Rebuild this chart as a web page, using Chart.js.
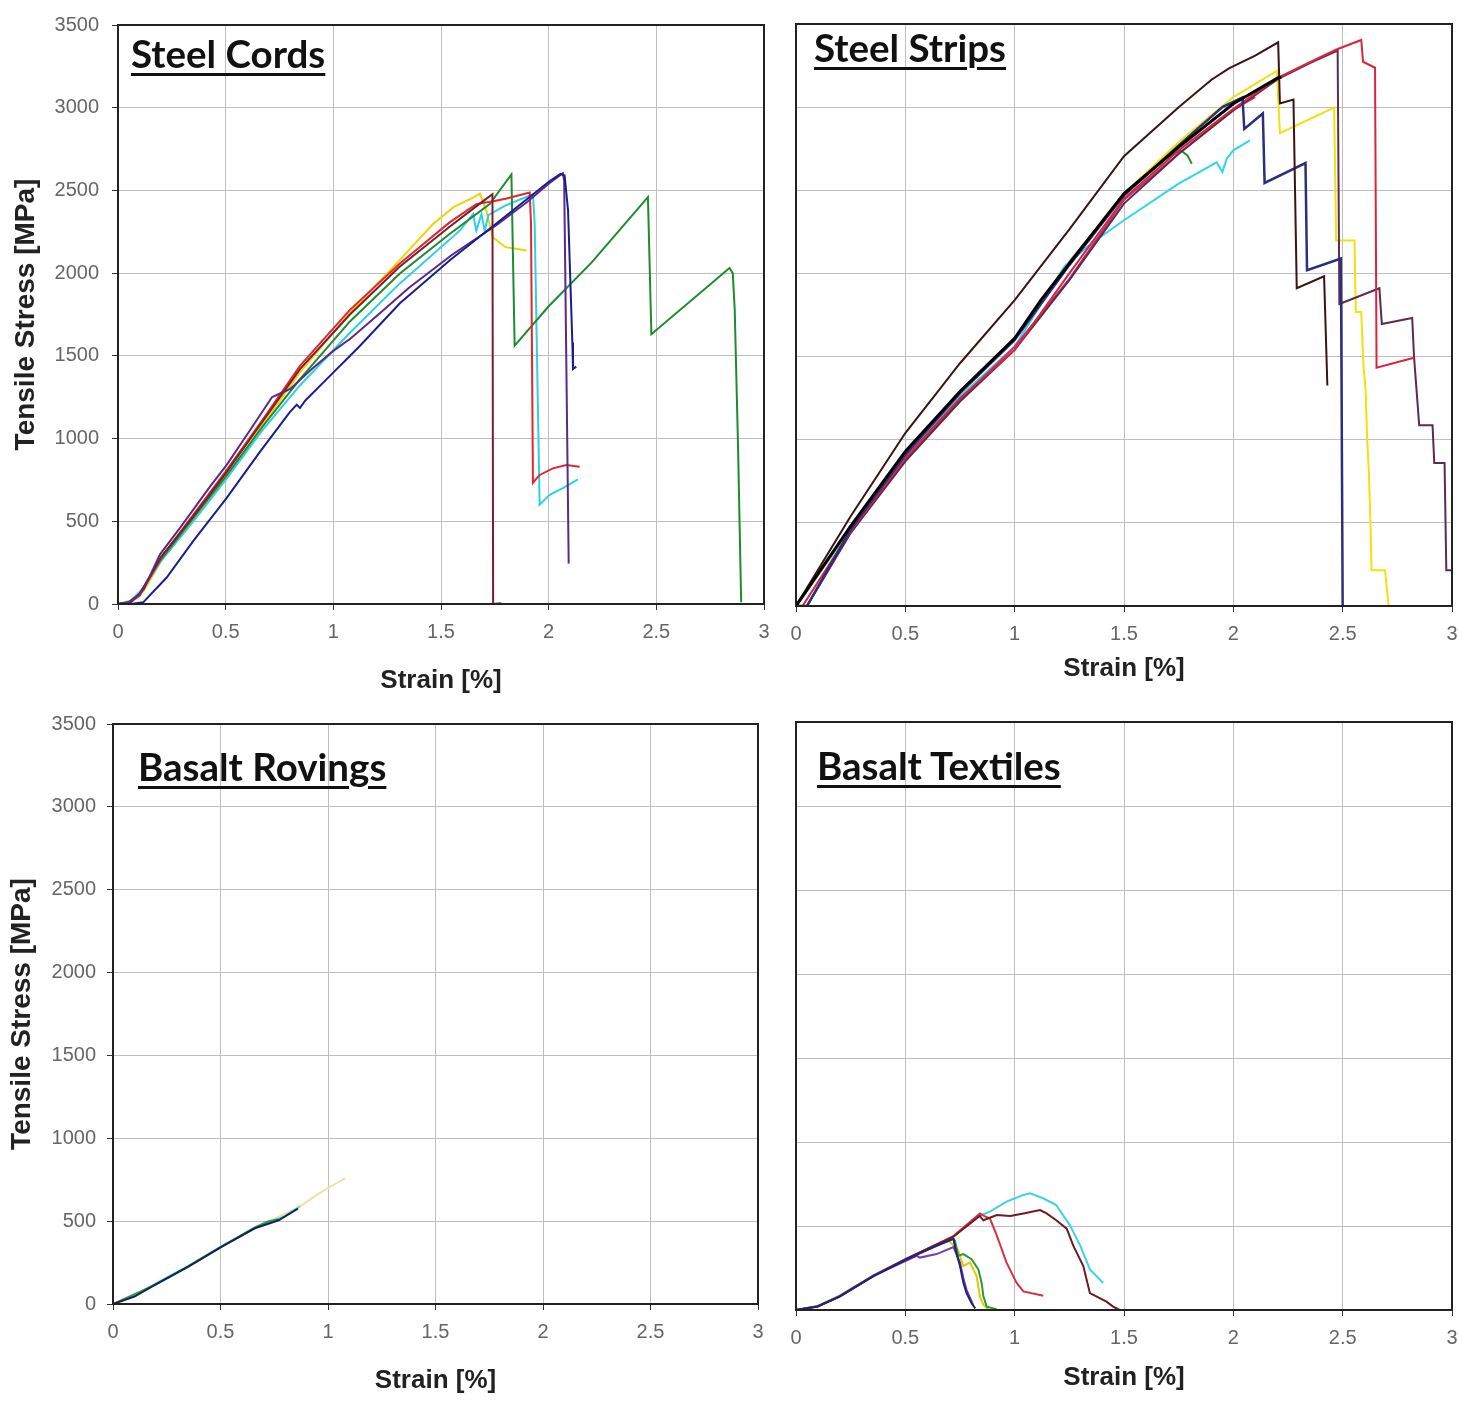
<!DOCTYPE html>
<html>
<head>
<meta charset="utf-8">
<script src="https://cdn.jsdelivr.net/npm/chart.js@4.4.1/dist/chart.umd.min.js"></script>
<style>
  body { margin: 0; background: #fff; }
  #wrap { position: relative; width: 1458px; height: 1405px; overflow: hidden; }
  canvas { position: absolute; }
  .tag {
    position: absolute; font: bold 38.5px Lato, sans-serif; color: #111; line-height: 1;
    text-decoration: underline; text-decoration-thickness: 3px; text-underline-offset: 5px; white-space: nowrap;
  }
</style>
</head>
<body>
<div id="wrap">
  <canvas id="cords" width="780" height="700" style="left:0;top:0"></canvas>
  <canvas id="strips" width="700" height="700" style="left:780px;top:0"></canvas>
  <canvas id="rovings" width="780" height="705" style="left:0;top:700px"></canvas>
  <canvas id="textiles" width="700" height="705" style="left:780px;top:700px"></canvas>
  <div class="tag" style="left:131px;top:34px">Steel Cords</div>
  <div class="tag" style="left:814px;top:28px">Steel Strips</div>
  <div class="tag" style="left:138px;top:747px">Basalt Rovings</div>
  <div class="tag" style="left:817px;top:746px">Basalt Textiles</div>
</div>
<script>
// tick labels
const strainTicks = ['0', '0.5', '1', '1.5', '2', '2.5', '3'];
const stressTicks = ['0', '500', '1000', '1500', '2000', '2500', '3000', '3500'];

// [strain %, stress MPa] — Steel Cords
const cordsNavy = [[0,0],[0.06,0],[0.117,10],[0.226,160],[0.349,380],[0.504,640],[0.659,920],[0.798,1160],[0.83,1205],[0.845,1185],[0.87,1230],[0.968,1358],[1.123,1560],[1.309,1818],[1.541,2078],[1.773,2317],[2.005,2557],[2.055,2600],[2.074,2590],[2.09,2380],[2.1,1980],[2.11,1580],[2.113,1420],[2.128,1435]];
const cordsPurple = [[0,0],[0.06,10],[0.12,90],[0.195,300],[0.288,460],[0.427,710],[0.504,840],[0.613,1050],[0.715,1250],[0.74,1265],[0.8,1300],[0.9,1420],[1.0,1530],[1.08,1605],[1.2,1740],[1.35,1910],[1.55,2110],[1.757,2290],[1.9,2430],[2.0,2540],[2.066,2604],[2.072,2560],[2.093,244]];
const cordsMaroon = [[0,0],[0.05,10],[0.1,60],[0.2,285],[0.35,530],[0.5,790],[0.67,1100],[0.845,1420],[1.077,1750],[1.309,2040],[1.54,2280],[1.7,2440],[1.739,2477],[1.742,0],[1.78,4]];
const cordsRed = [[0,0],[0.05,5],[0.1,50],[0.2,280],[0.35,540],[0.5,800],[0.67,1110],[0.845,1439],[1.077,1778],[1.309,2058],[1.54,2307],[1.664,2417],[1.703,2427],[1.726,2430],[1.8,2450],[1.912,2487],[1.918,2300],[1.927,733],[1.958,780],[2.02,820],[2.082,840],[2.144,830]];
const cordsGreen = [[0,0],[0.05,10],[0.1,60],[0.2,270],[0.35,520],[0.5,770],[0.67,1070],[0.845,1359],[1.077,1708],[1.309,1998],[1.54,2237],[1.726,2417],[1.827,2597],[1.842,1562],[2.0,1800],[2.2,2065],[2.461,2460],[2.477,1631],[2.84,2031],[2.855,2000],[2.864,1778],[2.879,980],[2.894,10]];
const cordsCyan = [[0,0],[0.06,20],[0.12,100],[0.2,260],[0.35,500],[0.5,750],[0.67,1050],[0.845,1321],[1.077,1640],[1.309,1938],[1.587,2257],[1.649,2357],[1.664,2257],[1.688,2357],[1.703,2257],[1.72,2350],[1.8,2410],[1.927,2477],[1.935,2300],[1.958,600],[2.005,660],[2.066,700],[2.136,753]];
const cordsYellow = [[0,0],[0.06,15],[0.12,80],[0.2,260],[0.35,505],[0.5,755],[0.67,1080],[0.845,1400],[1.077,1760],[1.309,2080],[1.463,2297],[1.56,2400],[1.649,2457],[1.68,2480],[1.71,2380],[1.74,2217],[1.8,2157],[1.897,2137]];

// Steel Strips
const stripsBlack = [[0,0],[0.25,480],[0.5,930],[0.75,1290],[1.0,1610],[1.12,1840],[1.25,2060],[1.5,2480],[1.75,2760],[2.0,3020],[2.205,3177],[2.22,3180]];
const stripsTop = [[0,0],[0.25,540],[0.5,1040],[0.75,1460],[1.0,1840],[1.25,2265],[1.5,2705],[1.75,3000],[1.9,3165],[1.98,3233],[2.1,3310],[2.205,3390],[2.213,3022],[2.275,3046],[2.29,1911],[2.415,1983],[2.43,1326]];
const stripsNavy = [[0,0],[0.05,0],[0.25,460],[0.5,910],[0.75,1280],[1.0,1600],[1.25,2050],[1.5,2470],[1.75,2770],[1.95,3000],[2.042,3058],[2.05,2869],[2.135,2962],[2.143,2544],[2.33,2664],[2.337,2019],[2.492,2090],[2.5,0]];
const stripsRed = [[0,0],[0.03,0],[0.25,450],[0.5,890],[0.75,1250],[1.0,1540],[1.25,2000],[1.5,2450],[1.75,2740],[2.0,2990],[2.205,3177],[2.35,3270],[2.469,3345],[2.585,3404],[2.593,3273],[2.648,3237],[2.655,1433],[2.826,1493]];
const stripsPurple = [[0,0],[0.05,0],[0.25,440],[0.5,870],[0.75,1230],[1.0,1540],[1.25,1960],[1.5,2420],[1.75,2720],[2.0,2980],[2.205,3170],[2.35,3265],[2.477,3340],[2.485,1816],[2.668,1911],[2.679,1696],[2.818,1732],[2.826,1505],[2.85,1087],[2.911,1087],[2.919,860],[2.966,860],[2.974,215],[3.01,215]];
const stripsYellow = [[0,0],[0.25,470],[0.5,920],[0.75,1290],[1.0,1610],[1.25,2060],[1.5,2480],[1.75,2790],[2.0,3060],[2.199,3218],[2.213,2843],[2.461,2998],[2.47,2198],[2.554,2198],[2.56,1768],[2.585,1768],[2.595,1450],[2.605,1300],[2.612,1000],[2.62,800],[2.627,500],[2.632,215],[2.694,215],[2.71,0]];
const stripsMagenta = [[0,0],[0.05,0],[0.25,440],[0.5,880],[0.75,1240],[1.0,1560],[1.25,1967],[1.5,2442],[1.75,2720],[2.0,2985],[2.1,3060]];
const stripsCyan = [[0,0],[0.25,460],[0.5,900],[0.75,1260],[1.0,1560],[1.227,2040],[1.35,2180],[1.5,2320],[1.75,2540],[1.924,2668],[1.95,2610],[1.97,2690],[2.0,2740],[2.076,2800]];
const stripsGreen = [[0,0],[0.25,470],[0.5,925],[0.75,1290],[1.0,1610],[1.25,2070],[1.5,2470],[1.7,2700],[1.76,2740],[1.79,2710],[1.81,2660]];

// Basalt Rovings
const rovNavy = [[0,0],[0.1,45],[0.195,115],[0.35,225],[0.506,346],[0.66,457],[0.77,505],[0.86,575]];
const rovGreen = [[0,0],[0.2,118],[0.35,226],[0.5,342],[0.66,462],[0.72,498],[0.77,512]];
const rovCyan = [[0,0],[0.1,50],[0.2,125],[0.35,230],[0.5,345],[0.66,460],[0.8,530],[0.87,590]];
const rovYellow = [[0,0],[0.2,120],[0.35,228],[0.5,345],[0.66,460],[0.86,580],[0.95,660],[1.0,700],[1.08,758]];

// Basalt Textiles
const texNavy = [[0,0],[0.095,20],[0.2,81],[0.354,202],[0.506,302],[0.628,373],[0.72,423],[0.735,330],[0.75,262],[0.765,165],[0.78,100],[0.803,40],[0.82,10]];
const texPurple = [[0,0],[0.1,22],[0.2,82],[0.354,203],[0.552,322],[0.567,312],[0.643,333],[0.72,375],[0.735,330],[0.75,282],[0.765,190],[0.78,120],[0.8,60],[0.81,30]];
const texGreen = [[0,0],[0.1,22],[0.2,83],[0.354,204],[0.506,305],[0.628,378],[0.72,425],[0.727,413],[0.742,323],[0.765,333],[0.803,302],[0.834,242],[0.849,161],[0.857,81],[0.872,20],[0.918,5]];
const texYellow = [[0,0],[0.1,24],[0.2,85],[0.354,205],[0.506,306],[0.628,380],[0.7,410],[0.74,360],[0.765,262],[0.796,282],[0.826,202],[0.841,81],[0.857,30],[0.88,5]];
const texRed = [[0,0],[0.1,22],[0.2,82],[0.354,204],[0.506,306],[0.628,382],[0.72,440],[0.841,575],[0.86,560],[0.887,544],[0.918,444],[0.963,282],[1.009,161],[1.04,111],[1.131,85]];
const texMaroon = [[0,0],[0.1,20],[0.2,80],[0.354,202],[0.506,304],[0.628,380],[0.72,436],[0.84,560],[0.857,534],[0.918,565],[0.98,560],[1.04,575],[1.116,595],[1.146,575],[1.19,534],[1.238,484],[1.268,383],[1.314,262],[1.344,101],[1.42,50],[1.45,20],[1.48,0]];
const texCyan = [[0,0],[0.1,24],[0.2,86],[0.354,206],[0.506,306],[0.628,382],[0.72,438],[0.84,562],[0.887,585],[0.963,645],[1.04,685],[1.07,695],[1.13,665],[1.19,625],[1.253,504],[1.3,383],[1.344,242],[1.405,161]];

const frame = {
  id: 'frame',
  afterDatasetsDraw(chart) {
    const { ctx, chartArea: a } = chart;
    ctx.save();
    ctx.strokeStyle = '#222';
    ctx.lineWidth = 2;
    ctx.strokeRect(a.left, a.top, a.right - a.left, a.bottom - a.top);
    ctx.restore();
  }
};

const tickFont = { family: '"Liberation Sans", Arial, sans-serif', size: 20 };
const titleFont = { family: '"Liberation Sans", Arial, sans-serif', size: 26, weight: 'bold' };

function line(data, color, width) {
  return { data, borderColor: color, borderWidth: width || 2, pointRadius: 0, tension: 0, fill: false };
}

function makePanel(id, datasets, o) {
  return new Chart(document.getElementById(id), {
    type: 'line',
    data: { datasets },
    options: {
      responsive: false,
      animation: false,
      layout: { padding: { left: 0, right: o.padRight, top: o.padTop, bottom: 0 } },
      plugins: { legend: { display: false }, tooltip: { enabled: false } },
      scales: {
        x: {
          type: 'linear', min: 0, max: 3,
          ticks: { stepSize: 0.5, autoSkip: false, maxRotation: 0, padding: 10, font: tickFont, color: '#666',
                   callback: v => strainTicks[Math.round(v / 0.5)] },
          grid: { color: '#bfbfbf', tickLength: 6, tickColor: '#333' },
          border: { display: false },
          title: { display: true, text: 'Strain [%]', font: titleFont, color: '#222', padding: { top: 0, bottom: o.xTitlePad } },
          afterFit: s => { s.height = o.xHeight; }
        },
        y: {
          type: 'linear', min: 0, max: 3500,
          ticks: { display: o.showY, stepSize: 500, autoSkip: false, padding: o.yLabelPad || 3, font: tickFont, color: '#666',
                   callback: v => stressTicks[Math.round(v / 500)] },
          grid: { color: '#bfbfbf', tickLength: 6, tickColor: '#333', drawTicks: o.showY },
          border: { display: false },
          title: { display: o.showY, text: 'Tensile Stress [MPa]', color: '#222',
                   font: { ...titleFont, size: 28 }, padding: { top: o.yTitlePad || 0, bottom: 0 } },
          afterFit: s => { s.width = o.yWidth; }
        }
      }
    },
    plugins: [frame]
  });
}

makePanel('cords', [
  line(cordsNavy, '#1a1f8f'),
  line(cordsPurple, '#5b2a86'),
  line(cordsMaroon, '#7a1f2b'),
  line(cordsRed, '#e3262b'),
  line(cordsGreen, '#1e8c2e'),
  line(cordsCyan, '#2fd0e6'),
  line(cordsYellow, '#f0d400')
], { padRight: 16, padTop: 20, xHeight: 96, yWidth: 118, showY: true, yLabelPad: 13, yTitlePad: 9, xTitlePad: 4 });

makePanel('strips', [
  line(stripsBlack, '#000', 3),
  line(stripsTop, '#3a1414'),
  line(stripsNavy, '#2c2f7a', 2.5),
  line(stripsRed, '#d7263d'),
  line(stripsPurple, '#5e2a4e'),
  line(stripsYellow, '#f2e10f'),
  line(stripsMagenta, '#c8307a'),
  line(stripsCyan, '#2ed6ea'),
  line(stripsGreen, '#2b8a3e')
], { padRight: 28, padTop: 24, xHeight: 94, yWidth: 16, showY: false, xTitlePad: 16 });

makePanel('rovings', [
  line(rovNavy, '#1c2050'),
  line(rovGreen, '#2c9a58'),
  line(rovCyan, '#4dd9e6'),
  line(rovYellow, '#ece49a')
], { padRight: 22, padTop: 24, xHeight: 101, yWidth: 113, showY: true, yLabelPad: 11, yTitlePad: 5, xTitlePad: 9 });

makePanel('textiles', [
  line(texNavy, '#22227a'),
  line(texMaroon, '#6b1c24'),
  line(texRed, '#d63246'),
  line(texCyan, '#3cd4e4'),
  line(texPurple, '#7a3ab0'),
  line(texGreen, '#2a9a3a'),
  line(texYellow, '#e8c700')
], { padRight: 28, padTop: 22, xHeight: 95, yWidth: 16, showY: false, xTitlePad: 12 });
</script>
</body>
</html>
